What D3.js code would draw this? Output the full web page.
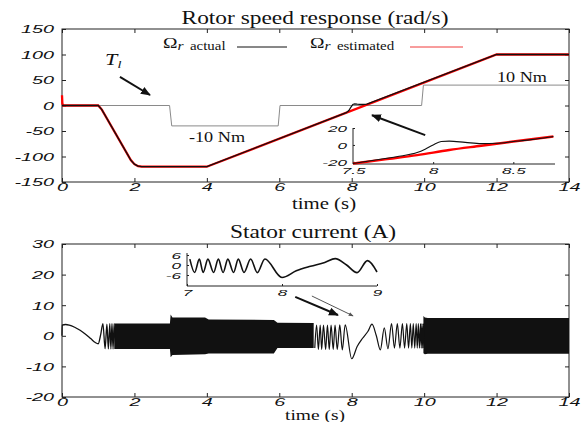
<!DOCTYPE html>
<html>
<head>
<meta charset="utf-8">
<script src="https://cdn.jsdelivr.net/npm/d3@7"></script>
<style>
body { margin: 0; background: #fff; }
svg { display: block; }
.serif { font-family: "Liberation Serif", "Times New Roman", serif; fill: #111; }
.tick text { font-family: "Liberation Sans", Arial, sans-serif; font-style: italic; fill: #111; }
</style>
</head>
<body>
<div id="chart"></div>
<script>
// ---- data ----
var timeTicks = [0, 2, 4, 6, 8, 10, 12, 14];
var speedTicks = [-150, -100, -50, 0, 50, 100, 150];
var currentTicks = [-20, -10, 0, 10, 20, 30];

// rotor speed (rad/s)
var actualTime  = [0, 1.0, 1.1, 1.9, 2.0, 2.1, 2.2, 4.0, 7.85, 7.92, 7.98, 8.03, 8.08, 8.15, 8.3, 8.42, 12.0, 14];
var speedActual = [0, 0, -8, -107, -115, -119, -120, -120, -14, -10, -3, 2, 3, 2.5, 2, 2.5, 100, 100];
var estTime  = [0, 0.01, 0.03, 1.0, 1.1, 1.9, 2.0, 2.1, 2.2, 4.0, 12.0, 14];
var speedEst = [20, 4, 0, 0, -8, -107, -115, -119, -120, -120, 100, 100];

// load torque, drawn in speed units
var torqueTime = [0, 2.97, 3.03, 5.97, 6.02, 9.93, 9.98, 14];
var torqueLoad = [0, 0, -40, -40, 0, 0, 40, 40];

// zoom of speed around t = 8 s
var zoomTime   = [7.5, 7.6, 7.7, 7.8, 7.9, 7.95, 8.0, 8.05, 8.1, 8.2, 8.3, 8.4, 8.5, 8.6, 8.7, 8.75];
var zoomActual = [-22, -19, -16, -13, -9, -5, 0, 4, 4.5, 3, 1.5, 2, 4, 6, 8.5, 10];
var zoomEstTime = [7.5, 7.7, 7.9, 8.1, 8.3, 8.5, 8.75];
var zoomEst     = [-22, -17, -12, -6, -1, 4, 10];
var zoomSpeedTicksX = [7.5, 8, 8.5];
var zoomSpeedTicksY = [-20, 0, 20];

// stator current (A)
var startTime    = [0, 0.005, 0.1, 0.2, 0.35, 0.5, 0.65, 0.8, 0.92, 1.0, 1.07, 1.13, 1.19, 1.24, 1.28, 1.32, 1.35, 1.38, 1.41, 1.44, 1.47];
var startCurrent = [0, 3.5, 3.7, 3.5, 2.8, 1.8, 0.5, -1.0, -2.2, -2.6, 0.5, 4.0, -4.2, 3.8, -4.3, 4.0, -4.3, 4.0, -4.3, 4.0, -4.3];

var bandTime1 = [1.45, 2.98, 3.0, 3.05, 3.95, 4.05, 5.85, 5.95, 6.95];
var bandHigh1 = [4.0, 4.0, 7.0, 6.0, 6.0, 5.3, 5.2, 4.3, 4.2];
var bandLow1  = [-4.3, -4.3, -7.0, -6.3, -6.0, -5.8, -5.8, -4.0, -4.0];

var bandTime2 = [9.98, 10.02, 10.1, 14];
var bandHigh2 = [6.5, 6.0, 5.8, 5.8];
var bandLow2  = [-5.7, -6.0, -5.9, -5.9];

var slowTime = [6.98, 7.03, 7.08, 7.13, 7.17, 7.22, 7.28, 7.33, 7.38, 7.43, 7.49, 7.54, 7.6, 7.67, 7.74, 7.82,
                8.0, 8.15, 8.3, 8.45, 8.56, 8.68, 8.79, 8.9, 9.0, 9.1, 9.18, 9.26, 9.33, 9.4, 9.46, 9.52,
                9.57, 9.62, 9.66, 9.7, 9.74, 9.78, 9.81, 9.84, 9.87, 9.9, 9.92, 9.94, 9.96, 9.98, 10.0];
var slowCurrent = [-4, 3.5, -4.5, 3.5, -4.5, 3.5, -4.5, 3.5, -4.5, 3.5, -4.5, 3.5, -4.5, 3.6, -4.6, 3.6,
                   -7.5, -3.5, -0.8, 1.5, 3.8, 0, -4.6, 2.6, -4.2, 4, -4, 4, -4, 4, -4, 4,
                   -4, 4, -4, 4, -4, 4, -4, 4, -4, 4, -4, 4, -4, 4, -4];
var zoomCurrentTicksX = [7, 8, 9];
var zoomCurrentTicksY = [-6, 0, 6];

// ---- layout ----
var width = 581, height = 422;
var svg = d3.select("#chart").append("svg")
    .attr("width", width)
    .attr("height", height);

var defs = svg.append("defs");
function arrowHead(id, color) {
    defs.append("marker")
        .attr("id", id)
        .attr("viewBox", "0 0 10 10")
        .attr("refX", 9).attr("refY", 5)
        .attr("markerWidth", 5).attr("markerHeight", 5)
        .attr("orient", "auto")
        .append("path")
        .attr("d", "M0,1 L10,5 L0,9 z")
        .attr("fill", color);
}
arrowHead("headBlack", "#111");
arrowHead("headGray", "#555");

var x = d3.scaleLinear().domain([0, 14]).range([62, 569]);
var ySpeed = d3.scaleLinear().domain([-150, 150]).range([182, 29]);
var yCurrent = d3.scaleLinear().domain([-20, 30]).range([397, 244]);

var fmt = function (d) { return String(d); };

function styleTicks(g, side, size, k, off) {
    g.select(".domain").remove();
    g.selectAll(".tick line").attr("stroke", "#222");
    var t = g.selectAll(".tick text").attr("font-size", size).attr("x", null).attr("y", null).attr("dy", null);
    if (side == "bottom") t.attr("transform", "translate(0," + off + ") scale(" + k + ",1)");
    if (side == "left") t.attr("transform", "translate(" + (-off) + "," + (size * 0.36) + ") scale(" + k + ",1)");
}

function frame(yScale, yTicks) {
    var g = svg.append("g");
    var x0 = x.range()[0], x1 = x.range()[1];
    var y0 = yScale.range()[1], y1 = yScale.range()[0];
    g.append("rect")
        .attr("x", x0).attr("y", y0)
        .attr("width", x1 - x0).attr("height", y1 - y0)
        .attr("fill", "none").attr("stroke", "#222");
    g.append("g").attr("transform", "translate(0," + y1 + ")")
        .call(d3.axisBottom(x).tickValues(timeTicks).tickSize(-4).tickSizeOuter(0).tickFormat(fmt))
        .call(styleTicks, "bottom", 11, 1.8, 9);
    g.append("g").attr("transform", "translate(0," + y0 + ")")
        .call(d3.axisTop(x).tickValues(timeTicks).tickSize(-4).tickSizeOuter(0).tickFormat(""))
        .call(function (a) { a.select(".domain").remove(); a.selectAll("line").attr("stroke", "#222"); });
    g.append("g").attr("transform", "translate(" + x0 + ",0)")
        .call(d3.axisLeft(yScale).tickValues(yTicks).tickSize(-4).tickSizeOuter(0).tickFormat(fmt))
        .call(styleTicks, "left", 11, 1.8, 8);
    g.append("g").attr("transform", "translate(" + x1 + ",0)")
        .call(d3.axisRight(yScale).tickValues(yTicks).tickSize(-4).tickSizeOuter(0).tickFormat(""))
        .call(function (a) { a.select(".domain").remove(); a.selectAll("line").attr("stroke", "#222"); });
    return g;
}

function serifText(px, py, str, size, anchor) {
    return svg.append("text")
        .attr("class", "serif")
        .attr("transform", "translate(" + px + "," + py + ") scale(1.3,1)")
        .attr("text-anchor", anchor || "middle")
        .attr("font-size", size)
        .text(str);
}

function pairs(ts, vs) { return ts.map(function (t, i) { return [t, vs[i]]; }); }

function arrow(sx, sy, ex, ey, w, color, head) {
    svg.append("line")
        .attr("x1", sx).attr("y1", sy).attr("x2", ex).attr("y2", ey)
        .attr("stroke", color).attr("stroke-width", w)
        .attr("marker-end", "url(#" + head + ")");
}

// ================= top: rotor speed =================
frame(ySpeed, speedTicks);

var speedLine = d3.line()
    .x(function (d) { return x(d[0]); })
    .y(function (d) { return ySpeed(d[1]); });

svg.append("path")
    .datum(pairs(torqueTime, torqueLoad))
    .attr("d", speedLine)
    .attr("fill", "none").attr("stroke", "#8a8a8a").attr("stroke-width", 1);

svg.append("path")
    .datum(pairs(estTime, speedEst))
    .attr("d", speedLine)
    .attr("fill", "none").attr("stroke", "#ff0000").attr("stroke-width", 2.3);

svg.append("path")
    .datum(pairs(actualTime, speedActual))
    .attr("d", speedLine)
    .attr("fill", "none").attr("stroke", "#111").attr("stroke-width", 1.3);

// titles and annotations
serifText(315, 24, "Rotor speed response (rad/s)", 18);
serifText(324, 209, "time (s)", 16);
serifText(x(4.28), ySpeed(-72), "-10 Nm", 14);
serifText(x(12.7), ySpeed(46), "10 Nm", 14);

var tl = svg.append("text").attr("class", "serif")
    .attr("transform", "translate(" + x(1.19) + "," + ySpeed(80) + ") scale(1.3,1)")
    .attr("font-size", 17).attr("font-style", "italic").attr("fill", "#1a2350");
tl.append("tspan").text("T");
tl.append("tspan").attr("font-size", 11).attr("dy", 3).text("l");

arrow(x(1.6), ySpeed(56), x(2.43), ySpeed(20.6), 2, "#111", "headBlack");
arrow(x(10.03), ySpeed(-58), x(8.56), ySpeed(-19), 2, "#111", "headBlack");

// legend
function legendEntry(px, label, color, lx0, lx1) {
    var t = svg.append("text").attr("class", "serif")
        .attr("transform", "translate(" + px + ",48) scale(1.3,1)")
        .attr("font-size", 15);
    t.append("tspan").text("\u03A9");
    t.append("tspan").attr("font-style", "italic").attr("font-size", 12).attr("dy", 2).text("r");
    t.append("tspan").attr("font-size", 11.5).attr("dx", 2).text(" " + label);
    svg.append("line")
        .attr("x1", lx0).attr("x2", lx1).attr("y1", 47).attr("y2", 47)
        .attr("stroke", color).attr("stroke-width", 1);
}
legendEntry(163, "actual", "#111", 237, 287);
legendEntry(310, "estimated", "#f03a3a", 410, 463);

// zoom inset of the speed
var zx = d3.scaleLinear().domain([7.5, 8.76]).range([353, 555]);
var zy = d3.scaleLinear().domain([-22.5, 20]).range([164, 128]);
var zg = svg.append("g");
zg.append("g").attr("transform", "translate(0,164)")
    .call(d3.axisBottom(zx).tickValues(zoomSpeedTicksX).tickSize(-2).tickSizeOuter(0).tickFormat(fmt))
    .call(styleTicks, "bottom", 9, 1.9, 10);
zg.append("g").attr("transform", "translate(353,0)")
    .call(d3.axisLeft(zy).tickValues(zoomSpeedTicksY).tickSize(-2).tickSizeOuter(0).tickFormat(fmt))
    .call(styleTicks, "left", 9, 1.9, 6);
zg.append("line").attr("x1", 353).attr("x2", 555).attr("y1", 164).attr("y2", 164).attr("stroke", "#222");
zg.append("line").attr("x1", 353).attr("x2", 353).attr("y1", 128).attr("y2", 164).attr("stroke", "#222");

var zLine = d3.line()
    .x(function (d) { return zx(d[0]); })
    .y(function (d) { return zy(d[1]); })
    .curve(d3.curveMonotoneX);
zg.append("path").datum(pairs(zoomEstTime, zoomEst))
    .attr("d", zLine).attr("fill", "none").attr("stroke", "#ff0000").attr("stroke-width", 2.4);
zg.append("path").datum(pairs(zoomTime, zoomActual))
    .attr("d", zLine).attr("fill", "none").attr("stroke", "#111").attr("stroke-width", 1.1);

// ================= bottom: stator current =================
frame(yCurrent, currentTicks);

var curLine = d3.line()
    .x(function (d) { return x(d[0]); })
    .y(function (d) { return yCurrent(d[1]); })
    .curve(d3.curveMonotoneX);
var band = d3.area()
    .x(function (d) { return x(d[0]); })
    .y0(function (d) { return yCurrent(d[2]); })
    .y1(function (d) { return yCurrent(d[1]); });

function bandRows(ts, hi, lo) { return ts.map(function (t, i) { return [t, hi[i], lo[i]]; }); }

svg.append("path").datum(bandRows(bandTime1, bandHigh1, bandLow1)).attr("d", band).attr("fill", "#111");
svg.append("path").datum(bandRows(bandTime2, bandHigh2, bandLow2)).attr("d", band).attr("fill", "#111");
svg.append("path").datum(pairs(startTime, startCurrent))
    .attr("d", curLine).attr("fill", "none").attr("stroke", "#111").attr("stroke-width", 1.3);
svg.append("path").datum(pairs(slowTime, slowCurrent))
    .attr("d", curLine).attr("fill", "none").attr("stroke", "#111").attr("stroke-width", 1.2);

serifText(313, 238, "Stator current (A)", 18);
serifText(315, 420, "time (s)", 15);

arrow(x(6.44), yCurrent(12.7), x(7.62), yCurrent(6.8), 2, "#111", "headBlack");
arrow(x(6.9), yCurrent(13), x(8.04), yCurrent(6.5), 1, "#555", "headGray");

// zoom inset of the current, 7 s to 9 s
var cx = d3.scaleLinear().domain([7, 9]).range([187, 377]);
var cy = d3.scaleLinear().domain([-12.6, 7.2]).range([286, 253]);
var cg = svg.append("g");
cg.append("g").attr("transform", "translate(0,286)")
    .call(d3.axisBottom(cx).tickValues(zoomCurrentTicksX).tickSize(-2).tickSizeOuter(0).tickFormat(fmt))
    .call(styleTicks, "bottom", 9, 1.9, 10);
cg.append("g").attr("transform", "translate(187,0)")
    .call(d3.axisLeft(cy).tickValues(zoomCurrentTicksY).tickSize(-2).tickSizeOuter(0).tickFormat(fmt))
    .call(styleTicks, "left", 9, 1.9, 6);
cg.append("line").attr("x1", 187).attr("x2", 377).attr("y1", 286).attr("y2", 286).attr("stroke", "#222");
cg.append("line").attr("x1", 187).attr("x2", 187).attr("y1", 253).attr("y2", 286).attr("stroke", "#222");

var cLine = d3.line()
    .x(function (d) { return cx(d[0]); })
    .y(function (d) { return cy(d[1]); })
    .curve(d3.curveMonotoneX);
cg.append("path")
    .datum(pairs(slowTime, slowCurrent).filter(function (d) { return d[0] >= 7 && d[0] <= 9.0; }))
    .attr("d", cLine).attr("fill", "none").attr("stroke", "#111").attr("stroke-width", 1.6);
</script>
</body>
</html>
